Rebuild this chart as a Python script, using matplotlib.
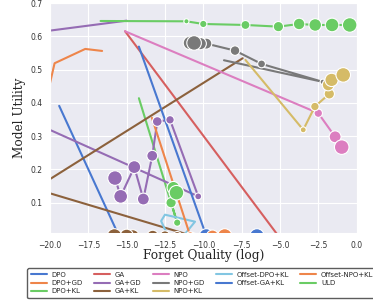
import matplotlib
matplotlib.use('Agg')
import numpy as np
import seaborn as sns
from matplotlib import pyplot as plt

# forget quality (log) / model utility per method
methods = ['DPO', 'DPO+GD', 'DPO+KL', 'GA', 'GA+GD', 'GA+KL', 'NPO', 'NPO+GD',
           'NPO+KL', 'Offset-DPO+KL', 'Offset-GA+KL', 'Offset-NPO+KL', 'ULD']

dpo_x = [-19.4, -15.5, -6.5]
dpo_y = [0.391, 0.0, 0.0]
dpo_gd_x = [-16.6, -17.7, -19.7, -22.3]
dpo_gd_y = [0.556, 0.562, 0.519, 0.0]
dpo_kl_x = [-14.2, -11.7, -12.1, -11.95, -11.75]
dpo_kl_y = [0.414, 0.04, 0.10, 0.145, 0.13]
ga_x = [-15.1, -5.1]
ga_y = [0.615, 0.0]
ga_gd_x = [-15.0, -31.2, -10.33, -12.17, -13.0, -13.33, -13.91, -14.5, -15.39, -15.76]
ga_gd_y = [0.647, 0.55, 0.119, 0.349, 0.344, 0.241, 0.111, 0.207, 0.119, 0.174]
ga_kl_x = [-7.43, -21.0, -10.7, -11.7, -12.5, -13.3, -14.6, -15.0, -15.8]
ga_kl_y = [0.534, 0.142, 0.0, 0.0, 0.0, 0.0, 0.0, 0.0, 0.0]
npo_x = [-15.1, -2.5, -1.4, -0.97]
npo_y = [0.615, 0.369, 0.298, 0.267]
npo_gd_x = [-8.65, -2.2, -6.2, -7.93, -9.8, -10.2, -10.87, -10.6]
npo_gd_y = [0.528, 0.463, 0.517, 0.557, 0.578, 0.578, 0.58, 0.58]
npo_kl_x = [-7.25, -3.48, -2.72, -1.78, -1.85, -1.63, -0.87]
npo_kl_y = [0.529, 0.319, 0.389, 0.427, 0.454, 0.469, 0.484]
off_dpo_kl_x = [-12.3, -12.75, -12.5, -10.54, -11.3]
off_dpo_kl_y = [0.0, 0.045, 0.064, 0.043, 0.0]
off_ga_kl_x = [-14.2, -9.8]
off_ga_kl_y = [0.569, 0.0]
off_npo_kl_x = [-13.35, -10.85, -9.4, -8.6]
off_npo_kl_y = [0.355, 0.0, 0.0, 0.0]
uld_x = [-16.7, -11.1, -10.0, -7.25, -5.1, -3.75, -2.7, -1.6, -0.45]
uld_y = [0.646, 0.645, 0.637, 0.634, 0.629, 0.637, 0.634, 0.634, 0.634]

xs = [dpo_x, dpo_gd_x, dpo_kl_x, ga_x, ga_gd_x, ga_kl_x, npo_x, npo_gd_x,
      npo_kl_x, off_dpo_kl_x, off_ga_kl_x, off_npo_kl_x, uld_x]
ys = [dpo_y, dpo_gd_y, dpo_kl_y, ga_y, ga_gd_y, ga_kl_y, npo_y, npo_gd_y,
      npo_kl_y, off_dpo_kl_y, off_ga_kl_y, off_npo_kl_y, uld_y]

# these runs show up as bare lines in the reference
no_markers = ['DPO+GD', 'GA', 'Offset-DPO+KL']

sns.set_style('darkgrid')
colors = sns.color_palette('muted', 10)

fig = plt.figure(figsize=(3.73, 3.04), dpi=100)
ax = fig.add_axes([0.134, 0.2325, 0.822, 0.7576])

for i in range(len(methods)):
    c = colors[i % 10]
    n = len(xs[i])
    ax.plot(xs[i], ys[i], color=c, lw=1.5, label=methods[i], zorder=2)
    if methods[i] in no_markers:
        continue
    # markers grow along the run
    sizes = 110 * np.arange(n) / (n - 1)
    ax.scatter(xs[i], ys[i], s=sizes, color=c, edgecolor='white', linewidth=0.8, zorder=3)

ax.set_xlim(-20, 0)
ax.set_ylim(0.008, 0.7)
ax.set_xticks(np.arange(-20, 0.1, 2.5))
ax.set_yticks([0.1, 0.2, 0.3, 0.4, 0.5, 0.6, 0.7])
ax.tick_params(labelsize=5.5, pad=2, colors='#333333')
ax.set_xlabel('Forget Quality (log)', family='DejaVu Serif', fontsize=8.7, labelpad=-0.5)
ax.set_ylabel('Model Utility', family='DejaVu Serif', fontsize=8.7, labelpad=3)

leg = ax.legend(loc='upper left', bbox_to_anchor=(-0.085, -0.136), ncol=5, fontsize=5,
                frameon=True, handlelength=2.3, columnspacing=1.6, labelspacing=0.35,
                borderpad=0.5, handletextpad=0.7)
leg.get_frame().set_edgecolor('#333333')
leg.get_frame().set_facecolor('white')

fig.savefig('out.png', dpi=100)
